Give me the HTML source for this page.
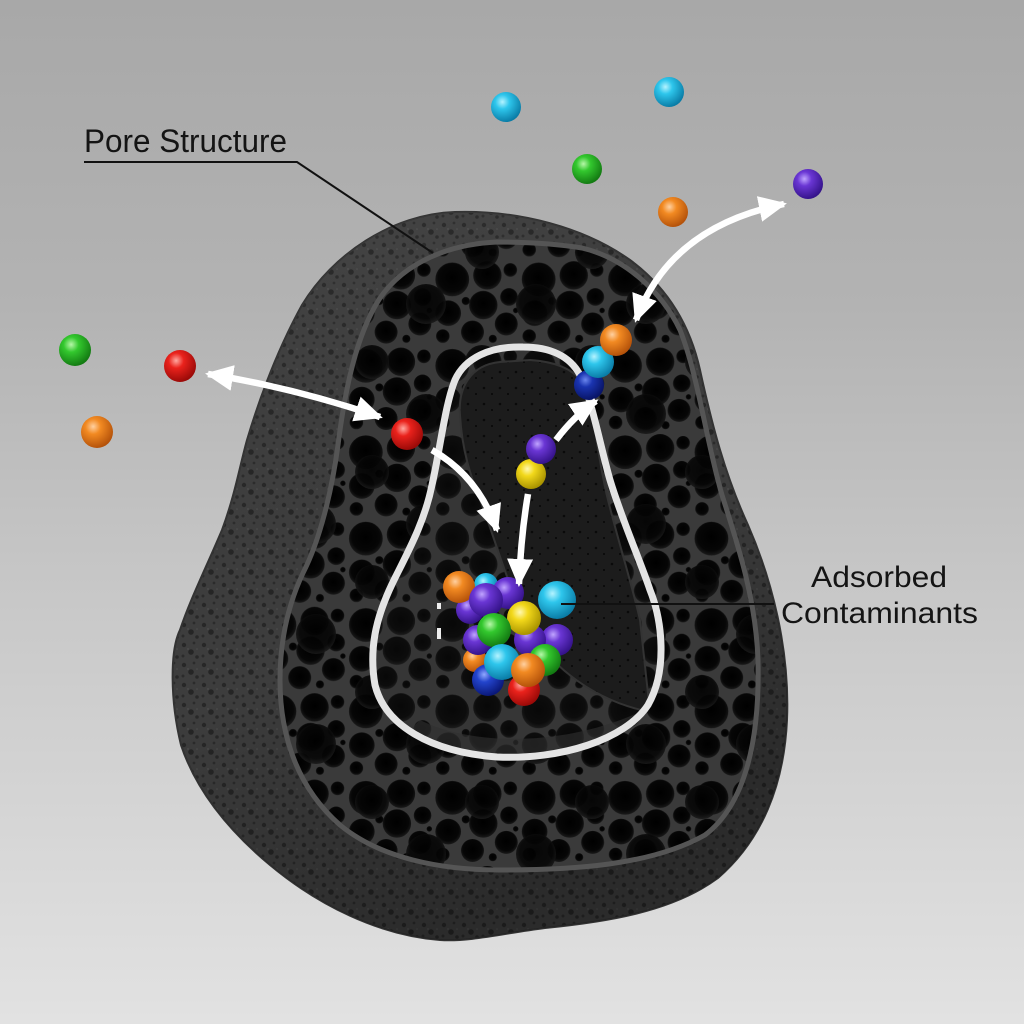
<!DOCTYPE html>
<html><head><meta charset="utf-8"><style>
html,body{margin:0;padding:0;width:1024px;height:1024px;overflow:hidden;background:#c4c4c4}
svg{display:block}
</style></head><body>
<svg width="1024" height="1024" viewBox="0 0 1024 1024" xmlns="http://www.w3.org/2000/svg">
<defs>
<linearGradient id="bg" x1="0" y1="0" x2="0" y2="1">
<stop offset="0" stop-color="#a8a8a8"/>
<stop offset="0.3" stop-color="#b3b3b3"/>
<stop offset="0.6" stop-color="#c9c9c9"/>
<stop offset="1" stop-color="#e2e2e2"/>
</linearGradient>
<radialGradient id="poreG" cx="0.5" cy="0.45" r="0.55">
<stop offset="0" stop-color="#000"/>
<stop offset="0.75" stop-color="#060606"/>
<stop offset="1" stop-color="#1a1a1a"/>
</radialGradient>
<pattern id="pores" width="64" height="64" patternUnits="userSpaceOnUse" patternTransform="scale(1.35)">
<rect width="64" height="64" fill="#3a3a3a"/>
<g fill="url(#poreG)">
<circle cx="15" cy="15" r="12.5"/>
<circle cx="41" cy="12" r="10.5"/>
<circle cx="58" cy="8" r="5"/>
<circle cx="57" cy="28" r="6.5"/>
<circle cx="38" cy="34" r="10.5"/>
<circle cx="12" cy="40" r="9.5"/>
<circle cx="25" cy="31" r="3"/>
<circle cx="55" cy="48" r="8.5"/>
<circle cx="30" cy="54" r="8.5"/>
<circle cx="8" cy="57" r="5"/>
<circle cx="45" cy="59" r="3"/>
<circle cx="62" cy="38" r="2"/>
</g>
</pattern>
<pattern id="pores2" width="110" height="110" patternUnits="userSpaceOnUse" patternTransform="translate(20,10)">
<g fill="url(#poreG)">
<circle cx="22" cy="22" r="17"/>
<circle cx="76" cy="74" r="20"/>
</g>
</pattern>
<pattern id="rough" width="20" height="20" patternUnits="userSpaceOnUse">
<rect width="20" height="20" fill="#3d3d3d"/>
<circle cx="4" cy="5" r="2.2" fill="#272727"/>
<circle cx="14" cy="3" r="1.4" fill="#2b2b2b"/>
<circle cx="11" cy="12" r="2.8" fill="#252525"/>
<circle cx="3" cy="16" r="1.5" fill="#2b2b2b"/>
<circle cx="17" cy="17" r="1.8" fill="#282828"/>
<circle cx="8" cy="9" r="0.9" fill="#4e4e4e"/>
<circle cx="17" cy="9" r="0.8" fill="#4e4e4e"/>
</pattern>
<pattern id="dots" width="16" height="16" patternUnits="userSpaceOnUse">
<rect width="16" height="16" fill="#1c1c1c"/>
<circle cx="4" cy="4" r="1.3" fill="#0a0a0a"/>
<circle cx="12" cy="10" r="1.1" fill="#0a0a0a"/>
</pattern>
<linearGradient id="shade" x1="0" y1="0" x2="0.4" y2="1">
<stop offset="0" stop-color="#fff" stop-opacity="0.05"/>
<stop offset="0.6" stop-color="#000" stop-opacity="0"/>
<stop offset="1" stop-color="#000" stop-opacity="0.3"/>
</linearGradient>

<radialGradient id="cCyan" cx="0.38" cy="0.33" r="0.68"><stop offset="0" stop-color="#b4f3ff"/><stop offset="0.35" stop-color="#2ec6ec"/><stop offset="1" stop-color="#0a7ca6"/></radialGradient>
<radialGradient id="cGreen" cx="0.38" cy="0.33" r="0.68"><stop offset="0" stop-color="#b6f7a8"/><stop offset="0.35" stop-color="#33c82e"/><stop offset="1" stop-color="#137a12"/></radialGradient>
<radialGradient id="cOrange" cx="0.38" cy="0.33" r="0.68"><stop offset="0" stop-color="#ffd0a0"/><stop offset="0.35" stop-color="#f28a22"/><stop offset="1" stop-color="#b4520a"/></radialGradient>
<radialGradient id="cPurple" cx="0.38" cy="0.33" r="0.68"><stop offset="0" stop-color="#c0a4ff"/><stop offset="0.35" stop-color="#6a36d4"/><stop offset="1" stop-color="#35138a"/></radialGradient>
<radialGradient id="cRed" cx="0.38" cy="0.33" r="0.68"><stop offset="0" stop-color="#ffa8a0"/><stop offset="0.35" stop-color="#ea221c"/><stop offset="1" stop-color="#9a0a08"/></radialGradient>
<radialGradient id="cYellow" cx="0.38" cy="0.33" r="0.68"><stop offset="0" stop-color="#fff8b0"/><stop offset="0.35" stop-color="#f2d81a"/><stop offset="1" stop-color="#a89200"/></radialGradient>
<radialGradient id="cBlue" cx="0.38" cy="0.33" r="0.68"><stop offset="0" stop-color="#90a8ff"/><stop offset="0.35" stop-color="#2344cc"/><stop offset="1" stop-color="#0a1878"/></radialGradient>
<radialGradient id="cNavy" cx="0.38" cy="0.33" r="0.68"><stop offset="0" stop-color="#6a86ee"/><stop offset="0.35" stop-color="#1a34b0"/><stop offset="1" stop-color="#081466"/></radialGradient>

<marker id="ah" viewBox="0 0 28 26" refX="25" refY="13" markerWidth="28" markerHeight="26" markerUnits="userSpaceOnUse" orient="auto-start-reverse">
<path d="M0,0 L28,13 L0,26 Z" fill="#fff"/>
</marker>

<clipPath id="faceClip"><path d="M 497,242 C 450,244 405,262 380,298 C 356,335 345,390 338,445 C 332,490 320,540 303,573 C 288,605 280,640 280,680 C 280,740 300,790 340,825 C 380,858 440,870 500,870 C 570,870 650,866 705,835 C 745,805 760,740 758,660 C 756,600 738,545 722,495 C 706,440 698,375 680,330 C 662,292 625,258 582,248 C 552,243 525,242 497,242 Z"/></clipPath>
<clipPath id="loopClip"><path d="M 523,347 C 490,346 465,358 455,380 C 445,405 440,450 432,485 C 425,520 410,548 395,578 C 378,612 368,645 375,685 C 385,725 430,752 497,757 C 560,760 625,740 648,705 C 668,670 662,620 650,590 C 640,560 622,520 610,480 C 600,445 592,400 580,375 C 570,356 550,347 523,347 Z"/></clipPath>
</defs>

<rect width="1024" height="1024" fill="url(#bg)"/>

<!-- rock outer silhouette -->
<path d="M 455,212 C 520,210 585,228 630,260 C 668,288 690,325 700,370 C 712,425 725,475 748,525 C 772,580 790,650 787,720 C 784,785 762,840 718,878 C 672,912 605,922 545,928 C 505,933 470,942 440,940 C 378,935 318,905 270,865 C 228,830 196,790 181,745 C 170,700 170,650 180,630 C 190,600 205,570 222,530 C 235,495 240,465 247,440 C 262,390 280,345 302,305 C 332,255 392,214 455,212 Z" fill="url(#rough)" stroke="#333" stroke-width="2"/>
<path d="M 455,212 C 520,210 585,228 630,260 C 668,288 690,325 700,370 C 712,425 725,475 748,525 C 772,580 790,650 787,720 C 784,785 762,840 718,878 C 672,912 605,922 545,928 C 505,933 470,942 440,940 C 378,935 318,905 270,865 C 228,830 196,790 181,745 C 170,700 170,650 180,630 C 190,600 205,570 222,530 C 235,495 240,465 247,440 C 262,390 280,345 302,305 C 332,255 392,214 455,212 Z" fill="url(#shade)"/>

<!-- cut face -->
<g clip-path="url(#faceClip)">
<rect x="270" y="230" width="500" height="650" fill="url(#pores)"/>
<rect x="270" y="230" width="500" height="650" fill="url(#pores2)" opacity="0.9"/>
</g>
<path d="M 497,242 C 450,244 405,262 380,298 C 356,335 345,390 338,445 C 332,490 320,540 303,573 C 288,605 280,640 280,680 C 280,740 300,790 340,825 C 380,858 440,870 500,870 C 570,870 650,866 705,835 C 745,805 760,740 758,660 C 756,600 738,545 722,495 C 706,440 698,375 680,330 C 662,292 625,258 582,248 C 552,243 525,242 497,242 Z" fill="none" stroke="#555" stroke-width="5"/>

<!-- cavity inside loop -->
<g clip-path="url(#loopClip)">
<rect x="360" y="340" width="320" height="430" fill="#262626"/>
<rect x="360" y="340" width="320" height="430" fill="url(#pores)" opacity="0.8"/>
<path d="M 500,362 C 470,365 458,388 460,415 C 462,450 470,475 482,505 C 495,540 505,575 520,610 C 540,660 590,700 650,712 L 640,620 C 632,585 618,540 608,500 C 598,460 595,420 588,395 C 582,372 560,362 530,360 Z" fill="url(#dots)" stroke="#333" stroke-width="2"/>
<path d="M 420,720 C 470,745 560,748 640,712 L 660,760 L 380,760 Z" fill="#303030" opacity="0.6"/>
</g>
<path d="M 523,347 C 490,346 465,358 455,380 C 445,405 440,450 432,485 C 425,520 410,548 395,578 C 378,612 368,645 375,685 C 385,725 430,752 497,757 C 560,760 625,740 648,705 C 668,670 662,620 650,590 C 640,560 622,520 610,480 C 600,445 592,400 580,375 C 570,356 550,347 523,347 Z" fill="none" stroke="#e4e4e4" stroke-width="7"/>

<!-- white specks -->
<rect x="437" y="603" width="4" height="6" fill="#eee"/>
<rect x="437" y="628" width="4" height="11" fill="#eee"/>

<!-- outside balls -->
<circle cx="506" cy="107" r="15" fill="url(#cCyan)"/>
<circle cx="669" cy="92" r="15" fill="url(#cCyan)"/>
<circle cx="587" cy="169" r="15" fill="url(#cGreen)"/>
<circle cx="673" cy="212" r="15" fill="url(#cOrange)"/>
<circle cx="808" cy="184" r="15" fill="url(#cPurple)"/>
<circle cx="75" cy="350" r="16" fill="url(#cGreen)"/>
<circle cx="180" cy="366" r="16" fill="url(#cRed)"/>
<circle cx="97" cy="432" r="16" fill="url(#cOrange)"/>

<!-- inside balls -->
<circle cx="407" cy="434" r="16" fill="url(#cRed)"/>
<circle cx="589" cy="385" r="15" fill="url(#cNavy)"/>
<circle cx="598" cy="362" r="16" fill="url(#cCyan)"/>
<circle cx="616" cy="340" r="16" fill="url(#cOrange)"/>
<circle cx="531" cy="474" r="15" fill="url(#cYellow)"/>
<circle cx="541" cy="449" r="15" fill="url(#cPurple)"/>

<!-- cluster -->
<circle cx="486" cy="585" r="12" fill="url(#cCyan)"/>
<circle cx="475" cy="660" r="12" fill="url(#cOrange)"/>
<circle cx="470" cy="610" r="14" fill="url(#cPurple)"/>
<circle cx="459" cy="587" r="16" fill="url(#cOrange)"/>
<circle cx="508" cy="593" r="16" fill="url(#cPurple)"/>
<circle cx="486" cy="600" r="17" fill="url(#cPurple)"/>
<circle cx="557" cy="640" r="16" fill="url(#cPurple)"/>
<circle cx="530" cy="640" r="16" fill="url(#cPurple)"/>
<circle cx="478" cy="640" r="15" fill="url(#cPurple)"/>
<circle cx="524" cy="618" r="17" fill="url(#cYellow)"/>
<circle cx="494" cy="630" r="17" fill="url(#cGreen)"/>
<circle cx="545" cy="660" r="16" fill="url(#cGreen)"/>
<circle cx="488" cy="680" r="16" fill="url(#cBlue)"/>
<circle cx="524" cy="690" r="16" fill="url(#cRed)"/>
<circle cx="502" cy="662" r="18" fill="url(#cCyan)"/>
<circle cx="528" cy="670" r="17" fill="url(#cOrange)"/>
<circle cx="557" cy="600" r="19" fill="url(#cCyan)"/>

<!-- arrows -->
<g fill="none" stroke="#fff" stroke-width="6.5">
<path d="M 208,374 Q 295,388 380,417" marker-start="url(#ah)" marker-end="url(#ah)"/>
<path d="M 636,320 Q 670,227 784,204" marker-start="url(#ah)" marker-end="url(#ah)"/>
<path d="M 432,450 Q 478,476 497,530" marker-end="url(#ah)"/>
<path d="M 528,494 Q 521,535 519,584" marker-end="url(#ah)"/>
<path d="M 556,440 Q 575,415 596,401" marker-end="url(#ah)"/>
</g>

<!-- leaders -->
<polyline points="84,162 297,162 433,253" fill="none" stroke="#111" stroke-width="2"/>
<line x1="561" y1="604" x2="774" y2="604" stroke="#111" stroke-width="2"/>

<!-- labels -->
<g font-family="'Liberation Sans', 'DejaVu Sans', sans-serif" fill="#141414">
<text x="84" y="152" font-size="32" textLength="203" lengthAdjust="spacingAndGlyphs">Pore Structure</text>
<text x="811" y="587" font-size="30" textLength="136" lengthAdjust="spacingAndGlyphs">Adsorbed</text>
<text x="781" y="623" font-size="30" textLength="197" lengthAdjust="spacingAndGlyphs">Contaminants</text>
</g>
</svg>
</body></html>
